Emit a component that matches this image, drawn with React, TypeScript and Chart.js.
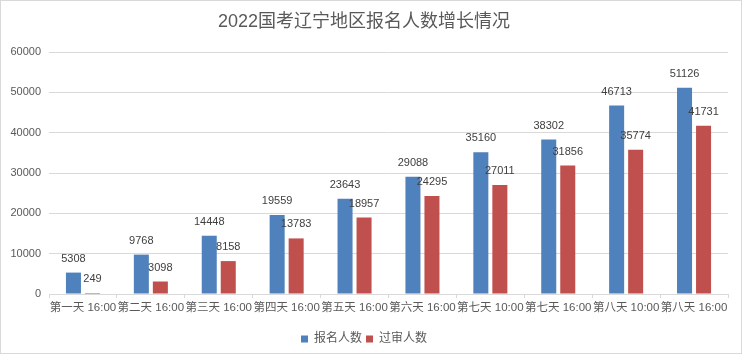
import React, { useEffect, useRef } from "react";
import { Chart, registerables } from "chart.js";

Chart.register(...registerables);

const categories = [
  "第一天 16:00",
  "第二天 16:00",
  "第三天 16:00",
  "第四天 16:00",
  "第五天 16:00",
  "第六天 16:00",
  "第七天 10:00",
  "第七天 16:00",
  "第八天 10:00",
  "第八天 16:00",
];
const registered = [5308, 9768, 14448, 19559, 23643, 29088, 35160, 38302, 46713, 51126];
const approved = [249, 3098, 8158, 13783, 18957, 24295, 27011, 31856, 35774, 41731];
const seriesNames = ["报名人数", "过审人数"];
const titleText = "2022国考辽宁地区报名人数增长情况";

const FONT = '"Liberation Sans", "Noto Sans CJK SC", sans-serif';

const labelPlugin = {
  id: "barLabels",
  afterDatasetsDraw(chart: any) {
    const ctx = chart.ctx;
    ctx.save();
    ctx.font = `11px ${FONT}`;
    ctx.fillStyle = "#404040";
    ctx.textAlign = "center";
    ctx.textBaseline = "middle";
    chart.data.datasets.forEach((ds: any, di: number) => {
      const meta = chart.getDatasetMeta(di);
      meta.data.forEach((bar: any, i: number) => {
        ctx.fillText(String(ds.data[i]), bar.x, bar.y - 14);
      });
    });
    ctx.restore();
  },
};

const framePlugin = {
  id: "frame",
  afterDraw(chart: any) {
    const ctx = chart.ctx;
    ctx.save();
    ctx.strokeStyle = "#d9d9d9";
    ctx.lineWidth = 1;
    ctx.strokeRect(0.5, 0.5, 741, 353);
    ctx.restore();
  },
};

export default function App() {
  const ref = useRef<HTMLCanvasElement | null>(null);
  useEffect(() => {
    document.body.style.margin = "0";
    const canvas = ref.current!;
    const chart = new Chart(canvas, {
      type: "bar",
      data: {
        labels: categories,
        datasets: [
          {
            label: seriesNames[0],
            data: registered,
            backgroundColor: "#4F81BD",
            categoryPercentage: 0.56,
            barPercentage: 0.79,
          },
          {
            label: seriesNames[1],
            data: approved,
            backgroundColor: "#C0504D",
            categoryPercentage: 0.56,
            barPercentage: 0.79,
          },
        ],
      },
      options: {
        responsive: false,
        animation: false,
        devicePixelRatio: 1,
        layout: { padding: { left: 0, right: 16, top: 0, bottom: 1 } },
        plugins: {
          tooltip: { enabled: false },
          title: {
            display: true,
            text: titleText,
            color: "#595959",
            font: { family: FONT, size: 18, weight: "normal" },
            padding: { top: 11, bottom: 19.4 },
          },
          legend: {
            position: "bottom",
            labels: {
              boxWidth: 7,
              boxHeight: 7,
              padding: 4,
              color: "#595959",
              font: { family: FONT, size: 12 },
            },
          },
        },
        scales: {
          x: {
            grid: {
              drawOnChartArea: false,
              drawTicks: true,
              tickLength: 4,
              color: "#d9d9d9",
            },
            border: { display: true, color: "#d9d9d9" },
            ticks: {
              autoSkip: false,
              maxRotation: 0,
              minRotation: 0,
              padding: 3,
              color: "#595959",
              font: { family: FONT, size: 11.5 },
            },
            afterFit(scale: any) {
              scale.height = 35;
            },
          },
          y: {
            min: 0,
            max: 60000,
            grid: { color: "#d9d9d9", drawTicks: false },
            border: { display: false },
            ticks: {
              stepSize: 10000,
              padding: 8,
              color: "#595959",
              font: { family: FONT, size: 11 },
              callback: (v: any) => String(v),
            },
            afterFit(scale: any) {
              scale.width = 49;
            },
          },
        },
      },
      plugins: [labelPlugin, framePlugin],
    } as any);
    return () => chart.destroy();
  }, []);
  return (
    <div style={{ width: 744, height: 356, background: "#fff" }}>
      <canvas ref={ref} width={744} height={356} style={{ display: "block" }} />
    </div>
  );
}
